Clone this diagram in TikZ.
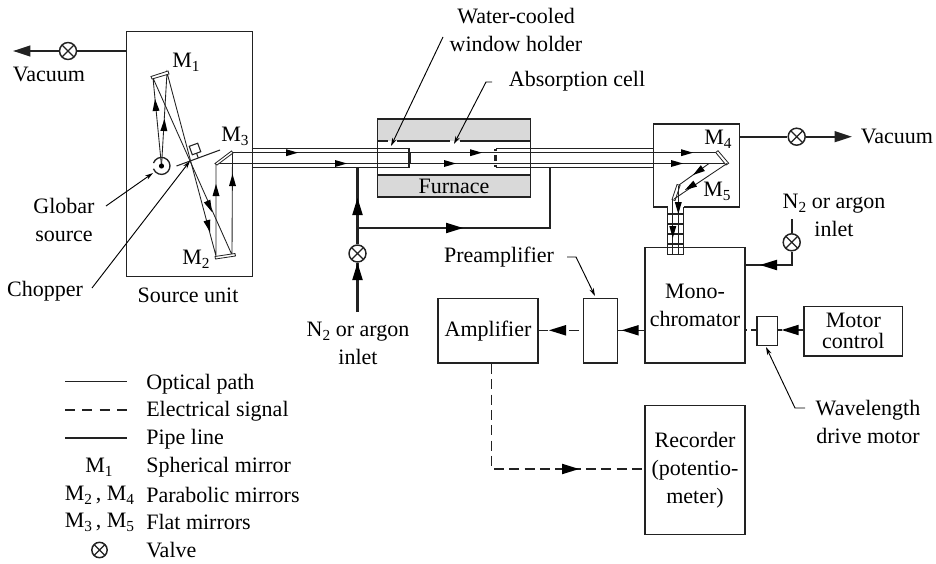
\documentclass[tikz,border=0pt]{standalone}
\usepackage{fontspec}
\setmainfont{Liberation Serif}
\usetikzlibrary{arrows.meta}
\definecolor{furnacegray}{HTML}{D9D9D9}
\definecolor{inkline}{HTML}{222222}
\tikzset{
  unitbox/.style={draw=inkline,line width=1.1pt,inner sep=0pt,align=center,anchor=north west},
  valve/.style={draw=inkline,fill=white,circle,line width=1.1pt,minimum size=12.75pt,inner sep=0pt,
    path picture={\draw[inkline,line width=0.9pt] (path picture bounding box.north west) -- (path picture bounding box.south east)
      (path picture bounding box.north east) -- (path picture bounding box.south west);}},
  label/.style={inner sep=0.75pt,align=center,text=black},
  pipe/.style={draw=inkline,line width=1.6pt},
  pipearrow/.style={pipe,-{Triangle[length=13pt,width=8pt]}},
  ray/.style={draw=inkline,line width=0.65pt},
  leader/.style={draw=black,line width=0.7pt,-{Stealth[length=6pt,width=3.5pt]}},
  elec/.style={draw=inkline,line width=0.9pt,dash pattern=on 7.5pt off 4pt},
  mirror/.style={draw=inkline,fill=white,line width=0.6pt},
}
\newcommand{\rayhead}[3]{\fill[black,shift={(#1,#2)},rotate=#3] (0,0) -- (-12,-3.5) -- (-12,3.5) -- cycle;}
\newcommand{\bighead}[3]{\fill[black,shift={(#1,#2)},rotate=#3] (0,0) -- (-17,-5.3) -- (-17,5.3) -- cycle;}
\newcommand{\msub}[1]{M\raisebox{-3pt}{\fontsize{11.5}{11.5}\selectfont #1}}
\begin{document}
\begin{tikzpicture}[x=0.75pt,y=0.75pt,yscale=-1,font=\fontsize{16.5}{19}\selectfont]
\useasboundingbox (0,0) rectangle (936,564);
% Furnace
\fill[furnacegray] (377.5,119) rectangle (530.5,141);
\fill[furnacegray] (377.5,175) rectangle (530.5,197);
\draw[inkline,line width=1.1pt] (377.5,119) rectangle (530.5,197);
\draw[inkline,line width=1.3pt] (377.5,141) -- (388,141) (397,141) -- (450,141) (460,141) -- (530.5,141) (377.5,175) -- (530.5,175);
\node[label] (furnace) at (454,186) {Furnace};
% Boxes
\node[unitbox,minimum width=94.5pt,minimum height=183.75pt] (sourcebox) at (125.5,30.5) {};
\node[unitbox,minimum width=75pt,minimum height=48.5pt] (amplifier) at (437.3,297.7) {Amplifier};
\node[unitbox,minimum width=25.5pt,minimum height=48.5pt] (preamp) at (582.7,297.7) {};
\node[unitbox,minimum width=75pt,minimum height=86.5pt] (mono) at (644.3,246.7) {Mono-\\[2pt]chromator};
\node[unitbox,minimum width=75pt,minimum height=96.75pt] (recorder) at (644.3,404.7) {Recorder\\[2pt](potentio-\\[2pt]meter)};
\node[unitbox,minimum width=15.3pt,minimum height=21.7pt] (drive) at (756.3,316) {};
\node[unitbox,minimum width=74pt,minimum height=37pt] (motor) at (803.3,305.7) {Motor\\[-3pt]control};
% Exit housing
\draw[inkline,line width=1.1pt,fill=white] (667.7,207) -- (653.3,207) -- (653.3,124) -- (739.5,124) -- (739.5,207) -- (683.5,207);
% Sample tube
\draw[inkline,line width=1.1pt] (377.5,148.5) -- (409,148.5) -- (409,167.5) -- (377.5,167.5)
  (530.5,148.5) -- (495.7,148.5) (495.7,167.5) -- (530.5,167.5);
\draw[inkline,line width=1.1pt] (251.5,148.5) -- (377.5,148.5) (251.5,167.5) -- (377.5,167.5)
  (530.5,148.5) -- (653.3,148.5) (530.5,167.5) -- (653.3,167.5);
\draw[inkline,line width=2.2pt] (409.5,153) -- (409.5,163) (495.7,149) -- (495.7,151) (495.7,155) -- (495.7,161) (495.7,165) -- (495.7,167);
% Rays through the tube
\draw[ray] (232.5,152.7) -- (719,152.7);
\draw[ray] (216,163.5) -- (727,163.5);
\rayhead{298}{152.7}{0}\rayhead{347}{163.5}{0}\rayhead{482}{152.7}{0}\rayhead{456}{163.5}{0}\rayhead{693}{152.7}{0}\rayhead{683}{163.5}{0}
% Source unit rays
\draw[ray] (161.5,166) -- (153,78) -- (232,255) -- (232.5,152.7);
\draw[ray] (161.5,166) -- (167,72.5) -- (216,256) -- (216,163.5);
\rayhead{155}{99}{-95}\rayhead{164.5}{119}{-87}\rayhead{212}{212}{66}\rayhead{210}{232}{75}\rayhead{216}{184}{-90}\rayhead{232.5}{174}{-90}
% Mirrors
\draw[mirror] (151,76.5) -- (168,71) -- (169,74) -- (152,79) -- cycle;
\draw[mirror] (215,256.5) -- (235,253.5) -- (235.5,256) -- (215.5,259) -- cycle;
\draw[mirror] (215,163.5) -- (231.5,151) -- (233,153) -- (217,165) -- cycle;
\draw[mirror] (718,150.7) -- (728.7,163.3) -- (726,165) -- (715.7,152.5) -- cycle;
\draw[mirror] (677,184.5) -- (680,185.5) -- (675,200.5) -- (672,199.5) -- cycle;
% Exit housing rays
\draw[ray] (727,163.5) -- (674,199);
\draw[ray] (709,163.5) -- (679,185);
\rayhead{693}{175}{145}\rayhead{685}{190}{148}
% Tube into the monochromator
\draw[inkline,line width=0.8pt] (667.7,207) -- (667.7,254.7) -- (683.5,254.7) -- (683.5,207);
\draw[inkline,line width=0.8pt] (667.7,214) -- (683.5,214) (667.7,224) -- (683.5,224) (667.7,234) -- (683.5,234) (667.7,244) -- (683.5,244);
\draw[ray] (672.8,199) -- (672.8,254.7) (678.3,185.5) -- (678.3,254.7);
\rayhead{672.8}{238}{90}\rayhead{678.3}{214}{90}
% Source and chopper
\draw[inkline,line width=1pt] (153.5,163) arc (200:520:8.5);
\fill[black] (161.5,166) circle (2.6);
\draw[inkline,line width=0.8pt] (176.5,166) -- (220,150);
\draw[inkline,line width=0.8pt,rotate around={-20:(195,149)}] (190.5,144.5) rectangle (199.5,153.5) (195,153.5) -- (195,158.5);
% Valves
\node[valve] (valvea) at (68,51) {};
\node[valve] (valveb) at (357.5,253.5) {};
\node[valve] (valvec) at (796.7,136.7) {};
\node[valve] (valved) at (791.7,242.3) {};
% Pipe lines
\coordinate (vacleft) at (13,51);
\coordinate (vacright) at (852,136.7);
\coordinate (inletbot) at (357.5,312);
\coordinate (inlettop) at (791.7,219);
\coordinate (teejoin) at (357.5,228);
\coordinate (tubejoin) at (357.5,168);
\coordinate (tubeout) at (550,168);
\draw[pipe] (sourcebox.west |- valvea) -- (valvea);
\draw[pipearrow] (valvea) -- (vacleft);
\draw[pipe] (inletbot) -- (valveb) -- (tubejoin);
\draw[pipe] (teejoin) -| (tubeout);
\draw[pipe] (739.5,136.7) -- (valvec);
\draw[pipearrow] (valvec) -- (vacright);
\draw[pipe] (inlettop) -- (valved) -- (791.7,265) -- (mono.east |- 0,265);
\bighead{357.5}{198}{-90}\bighead{357.5}{263}{-90}\bighead{463}{228}{0}\bighead{760}{265}{180}
% Signals
\coordinate (elecleft) at (579,330.3);
\draw[elec] (elecleft) -- (amplifier.east |- elecleft);
\bighead{549}{330.3}{180}
\draw[pipe,line width=1.1pt] (mono.west |- 0,330.3) -- (preamp.east |- 0,330.3);
\bighead{621.7}{330.3}{180}
\draw[elec] (amplifier.south -| 491.7,0) -- (491.7,469) -- (recorder.west |- 0,469);
\bighead{579}{469}{0}
\draw[elec,dash pattern=on 5pt off 3pt] (motor.west |- 0,330) -- (drive.east |- 0,330);
\bighead{781.7}{330}{180}
\draw[elec,dash pattern=on 4pt off 3pt] (drive.west |- 0,330) -- (mono.east |- 0,330);
% Leaders
\coordinate (leadglobar) at (106,206);
\coordinate (leadchopper) at (92,288);
\coordinate (leadwater) at (443,37);
\coordinate (leadcell) at (492,82);
\coordinate (leadpre) at (567,257);
\coordinate (leaddrive) at (805,408);
\draw[leader] (leadglobar) -- (153,173);
\draw[leader] (leadchopper) -- (190,161);
\draw[leader] (leadwater) -- (391,146);
\draw[leader] (leadcell) -- (486,82) -- (454,144);
\draw[leader] (leadpre) -- (576,257) -- (595,296);
\draw[leader] (leaddrive) -- (795,408) -- (766,347);
% Text Node
\node[label] (vacl) at (49,74) {Vacuum};
\node[label] (vacr) at (897,136.5) {Vacuum};
\node[label] (mone) at (186,62) {\msub{1}};
\node[label] (mtwo) at (196,259) {\msub{2}};
\node[label] (mthree) at (235,136) {\msub{3}};
\node[label] (mfour) at (718,139) {\msub{4}};
\node[label] (mfive) at (717,191) {\msub{5}};
\node[label] (globar) at (64,220) {Globar\\[2pt]source};
\node[label] (chopper) at (45,291) {Chopper};
\node[label] (sourcelab) at (188,295) {Source unit};
\node[label] (water) at (516,30) {Water-cooled\\[2pt]window holder};
\node[label] (cell) at (577,81) {Absorption cell};
\node[label] (inleta) at (358,343) {N\raisebox{-3pt}{\fontsize{11.5}{11.5}\selectfont 2} or argon\\[2pt]inlet};
\node[label] (inletb) at (834,215) {N\raisebox{-3pt}{\fontsize{11.5}{11.5}\selectfont 2} or argon\\[2pt]inlet};
\node[label] (prelab) at (499,257) {Preamplifier};
\node[label] (wave) at (868,422) {Wavelength\\[2pt]drive motor};
% Legend
\coordinate (lega) at (65,381); \coordinate (legb) at (127,381);
\coordinate (legc) at (65,410); \coordinate (legd) at (127,410);
\coordinate (lege) at (65,438); \coordinate (legf) at (127,438);
\draw[inkline,line width=0.7pt] (lega) -- (legb);
\draw[elec,dash pattern=on 7.5pt off 5.5pt] (legc) -- (legd);
\draw[pipe] (lege) -- (legf);
\node[label,anchor=west] (tone) at (145,384) {Optical path};
\node[label,anchor=west] (ttwo) at (145,411) {Electrical signal};
\node[label,anchor=west] (tthree) at (145,439) {Pipe line};
\node[label,anchor=west] (tfour) at (145,467) {Spherical mirror};
\node[label,anchor=west] (tfive) at (145,495) {Parabolic mirrors};
\node[label,anchor=west] (tsix) at (145,522) {Flat mirrors};
\node[label,anchor=west] (tseven) at (145,550) {Valve};
\node[label] (sone) at (99,467) {\msub{1}};
\node[label] (stwo) at (99.5,495) {\msub{2}\,, \msub{4}};
\node[label] (sthree) at (99.5,522) {\msub{3}\,, \msub{5}};
\node[valve,minimum size=11.5pt] (svalve) at (99.5,550) {};
\end{tikzpicture}
\end{document}
